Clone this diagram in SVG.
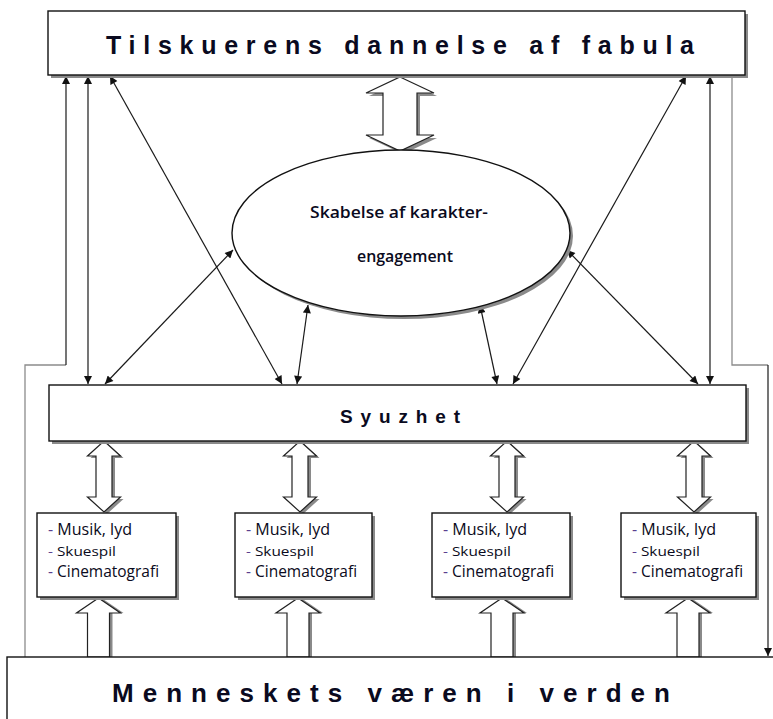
<svg xmlns="http://www.w3.org/2000/svg" width="773" height="719" viewBox="0 0 773 719">
<style>
.box{fill:#fff;stroke:#111;stroke-width:1.4}
.shadow{fill:#8a8a8a}
.blk{fill:#fff;stroke:#222;stroke-width:1.2;stroke-linejoin:miter}
.blks{fill:#8a8a8a}
.con{fill:none;stroke:#1a1a1a;stroke-width:1.2}
.thin{fill:none;stroke:#8c8c8c;stroke-width:1.3}
.t{font-family:"Liberation Sans",Arial,sans-serif;font-weight:bold;fill:#0a0a20}
.s{font-family:"Open Sans","Liberation Sans",sans-serif;fill:#0a0a20}
.d{fill:#5a3f8f}
</style>
<defs>
<marker id="ah" viewBox="0 0 10 10" refX="10" refY="5" markerWidth="10" markerHeight="8" markerUnits="userSpaceOnUse" orient="auto-start-reverse">
<path d="M0,0 L10,5 L0,10 z" fill="#111"/>
</marker>
</defs>

<g id="connectors">
<path class="thin" d="M25,657 V365 H66"/>
<line class="con" x1="66" y1="365" x2="66" y2="76" marker-end="url(#ah)"/>
<line class="con" x1="88" y1="76" x2="88" y2="384" marker-start="url(#ah)" marker-end="url(#ah)"/>
<line class="con" x1="110" y1="76" x2="282" y2="384" marker-start="url(#ah)" marker-end="url(#ah)"/>
<line class="con" x1="233" y1="250" x2="105" y2="384" marker-start="url(#ah)" marker-end="url(#ah)"/>
<line class="con" x1="308" y1="305" x2="297" y2="384" marker-start="url(#ah)" marker-end="url(#ah)"/>
<line class="con" x1="480" y1="305" x2="497" y2="384" marker-start="url(#ah)" marker-end="url(#ah)"/>
<line class="con" x1="686" y1="76" x2="513" y2="384" marker-start="url(#ah)" marker-end="url(#ah)"/>
<line class="con" x1="567" y1="250" x2="698" y2="384" marker-start="url(#ah)" marker-end="url(#ah)"/>
<line class="con" x1="710" y1="76" x2="710" y2="384" marker-start="url(#ah)" marker-end="url(#ah)"/>
<path class="thin" d="M732,77 V365 H768"/>
<line class="con" x1="768" y1="365" x2="768" y2="656" marker-end="url(#ah)"/>

<polygon class="blks" transform="translate(3,3)" points="400,77 434,93 417,93 417,135 434,135 400,151 366,135 383,135 383,93 366,93"/>
<polygon class="blk" points="400,77 434,93 417,93 417,135 434,135 400,151 366,135 383,135 383,93 366,93"/>

<g id="syu-arrows">
<polygon class="blks" transform="translate(3,2)" points="104,441 120.5,456 112,456 112,497 120.5,497 104,512 87.5,497 96,497 96,456 87.5,456"/>
<polygon class="blk" points="104,441 120.5,456 112,456 112,497 120.5,497 104,512 87.5,497 96,497 96,456 87.5,456"/>
<polygon class="blks" transform="translate(3,2)" points="300,441 316.5,456 308,456 308,497 316.5,497 300,512 283.5,497 292,497 292,456 283.5,456"/>
<polygon class="blk" points="300,441 316.5,456 308,456 308,497 316.5,497 300,512 283.5,497 292,497 292,456 283.5,456"/>
<polygon class="blks" transform="translate(3,2)" points="507,441 523.5,456 515,456 515,497 523.5,497 507,512 490.5,497 499,497 499,456 490.5,456"/>
<polygon class="blk" points="507,441 523.5,456 515,456 515,497 523.5,497 507,512 490.5,497 499,497 499,456 490.5,456"/>
<polygon class="blks" transform="translate(3,2)" points="694,441 710.5,456 702,456 702,497 710.5,497 694,512 677.5,497 686,497 686,456 677.5,456"/>
<polygon class="blk" points="694,441 710.5,456 702,456 702,497 710.5,497 694,512 677.5,497 686,497 686,456 677.5,456"/>
</g>

<g id="up-arrows">
<polygon class="blks" transform="translate(3,0)" points="98.5,598 120.5,613 109.5,613 109.5,657 87.5,657 87.5,613 76.5,613"/>
<polygon class="blk" points="98.5,598 120.5,613 109.5,613 109.5,657 87.5,657 87.5,613 76.5,613"/>
<polygon class="blks" transform="translate(3,0)" points="298,598 320,613 309,613 309,657 287,657 287,613 276,613"/>
<polygon class="blk" points="298,598 320,613 309,613 309,657 287,657 287,613 276,613"/>
<polygon class="blks" transform="translate(3,0)" points="502,598 524,613 513,613 513,657 491,657 491,613 480,613"/>
<polygon class="blk" points="502,598 524,613 513,613 513,657 491,657 491,613 480,613"/>
<polygon class="blks" transform="translate(3,0)" points="688,598 710,613 699,613 699,657 677,657 677,613 666,613"/>
<polygon class="blk" points="688,598 710,613 699,613 699,657 677,657 677,613 666,613"/>
</g>
</g>

<g id="node-fabula">
<rect class="shadow" x="51" y="14" width="697" height="64"/>
<rect class="box" x="48" y="11" width="697" height="64"/>
<text class="t" x="106" y="54" font-size="25" textLength="588" lengthAdjust="spacing">Tilskuerens dannelse af fabula</text>
</g>

<g id="node-karakter">
<ellipse class="shadow" cx="404" cy="236" rx="169" ry="83"/>
<ellipse class="box" cx="401" cy="233" rx="169" ry="83"/>
<text class="s" x="399" y="218" font-size="16" font-weight="600" text-anchor="middle" textLength="178" lengthAdjust="spacingAndGlyphs">Skabelse af karakter-</text>
<text class="s" x="405" y="262" font-size="16" font-weight="600" text-anchor="middle" textLength="96" lengthAdjust="spacingAndGlyphs">engagement</text>
</g>

<g id="node-syuzhet">
<rect class="shadow" x="52" y="388" width="697" height="56"/>
<rect class="box" x="49" y="385" width="697" height="56"/>
<text class="t" x="340" y="423" font-size="19" textLength="120" lengthAdjust="spacing">Syuzhet</text>
</g>

<g id="node-box1">
<rect class="shadow" x="40" y="516" width="139" height="84"/>
<rect class="box" x="37" y="513" width="139" height="84"/>
<text class="s" x="48" y="535" font-size="16" textLength="84" lengthAdjust="spacingAndGlyphs"><tspan class="d">-</tspan> Musik, lyd</text>
<text class="s" x="48" y="556" font-size="13" textLength="68" lengthAdjust="spacingAndGlyphs"><tspan class="d">-</tspan> Skuespil</text>
<text class="s" x="48" y="577" font-size="16" textLength="111" lengthAdjust="spacingAndGlyphs"><tspan class="d">-</tspan> Cinematografi</text>
</g>

<g id="node-box2">
<rect class="shadow" x="238" y="516" width="137" height="84"/>
<rect class="box" x="235" y="513" width="137" height="84"/>
<text class="s" x="246" y="535" font-size="16" textLength="84" lengthAdjust="spacingAndGlyphs"><tspan class="d">-</tspan> Musik, lyd</text>
<text class="s" x="246" y="556" font-size="13" textLength="68" lengthAdjust="spacingAndGlyphs"><tspan class="d">-</tspan> Skuespil</text>
<text class="s" x="246" y="577" font-size="16" textLength="111" lengthAdjust="spacingAndGlyphs"><tspan class="d">-</tspan> Cinematografi</text>
</g>

<g id="node-box3">
<rect class="shadow" x="435" y="516" width="138" height="84"/>
<rect class="box" x="432" y="513" width="138" height="84"/>
<text class="s" x="443" y="535" font-size="16" textLength="84" lengthAdjust="spacingAndGlyphs"><tspan class="d">-</tspan> Musik, lyd</text>
<text class="s" x="443" y="556" font-size="13" textLength="68" lengthAdjust="spacingAndGlyphs"><tspan class="d">-</tspan> Skuespil</text>
<text class="s" x="443" y="577" font-size="16" textLength="111" lengthAdjust="spacingAndGlyphs"><tspan class="d">-</tspan> Cinematografi</text>
</g>

<g id="node-box4">
<rect class="shadow" x="624" y="516" width="135" height="84"/>
<rect class="box" x="621" y="513" width="135" height="84"/>
<text class="s" x="632" y="535" font-size="16" textLength="84" lengthAdjust="spacingAndGlyphs"><tspan class="d">-</tspan> Musik, lyd</text>
<text class="s" x="632" y="556" font-size="13" textLength="68" lengthAdjust="spacingAndGlyphs"><tspan class="d">-</tspan> Skuespil</text>
<text class="s" x="632" y="577" font-size="16" textLength="111" lengthAdjust="spacingAndGlyphs"><tspan class="d">-</tspan> Cinematografi</text>
</g>

<g id="node-menneskets">
<rect class="box" x="7" y="657" width="790" height="80"/>
<text class="t" x="112" y="702" font-size="26" textLength="558" lengthAdjust="spacing">Menneskets væren i verden</text>
</g>
</svg>
